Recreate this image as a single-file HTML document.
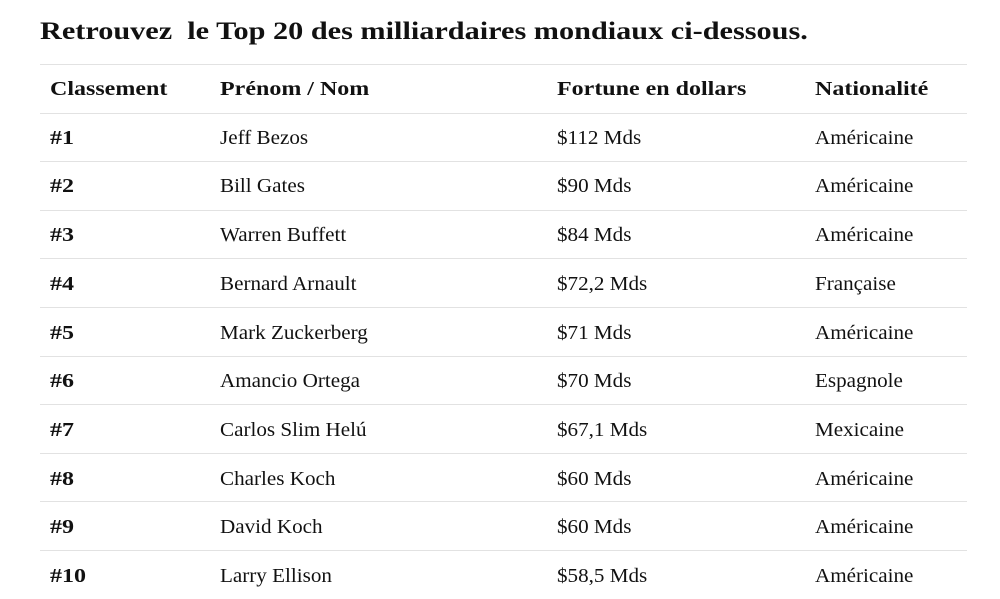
<!DOCTYPE html>
<html><head><meta charset="utf-8"><style>
body{margin:0;width:1000px;height:599px;background:#fff;overflow:hidden;font-family:"Liberation Serif",serif;color:#111;position:relative}
.t{position:absolute;left:40px;top:18px;font-size:25px;font-weight:bold;white-space:pre;transform:scaleX(1.21);transform-origin:0 0}
.l{position:absolute;left:40px;width:927px;height:1px;background:#e2e2e2}
.c{position:absolute;font-size:20px;line-height:20px;white-space:nowrap;transform:scaleX(1.055);transform-origin:0 0}
.b{font-weight:bold;transform:scaleX(1.2)}
</style></head><body>
<div class="t">Retrouvez  le Top 20 des milliardaires mondiaux ci-dessous.</div>
<div id="g"></div>
<script>
var rows=[["Classement","Prénom / Nom","Fortune en dollars","Nationalité"],
["#1","Jeff Bezos","$112 Mds","Américaine"],["#2","Bill Gates","$90 Mds","Américaine"],
["#3","Warren Buffett","$84 Mds","Américaine"],["#4","Bernard Arnault","$72,2 Mds","Française"],
["#5","Mark Zuckerberg","$71 Mds","Américaine"],["#6","Amancio Ortega","$70 Mds","Espagnole"],
["#7","Carlos Slim Helú","$67,1 Mds","Mexicaine"],["#8","Charles Koch","$60 Mds","Américaine"],
["#9","David Koch","$60 Mds","Américaine"],["#10","Larry Ellison","$58,5 Mds","Américaine"]];
var xs=[50,220,557,815],h="";
for(var i=0;i<=10;i++)h+='<div class="l" style="top:'+(64+i*48.6).toFixed(1)+'px"></div>';
rows.forEach(function(r,i){var y=88+i*48.7-9;
r.forEach(function(t,j){h+='<div class="c'+((i==0||j==0)?' b':'')+'" style="left:'+xs[j]+'px;top:'+y.toFixed(1)+'px">'+t+'</div>';});});
document.getElementById('g').innerHTML=h;
</script>
</body></html>
